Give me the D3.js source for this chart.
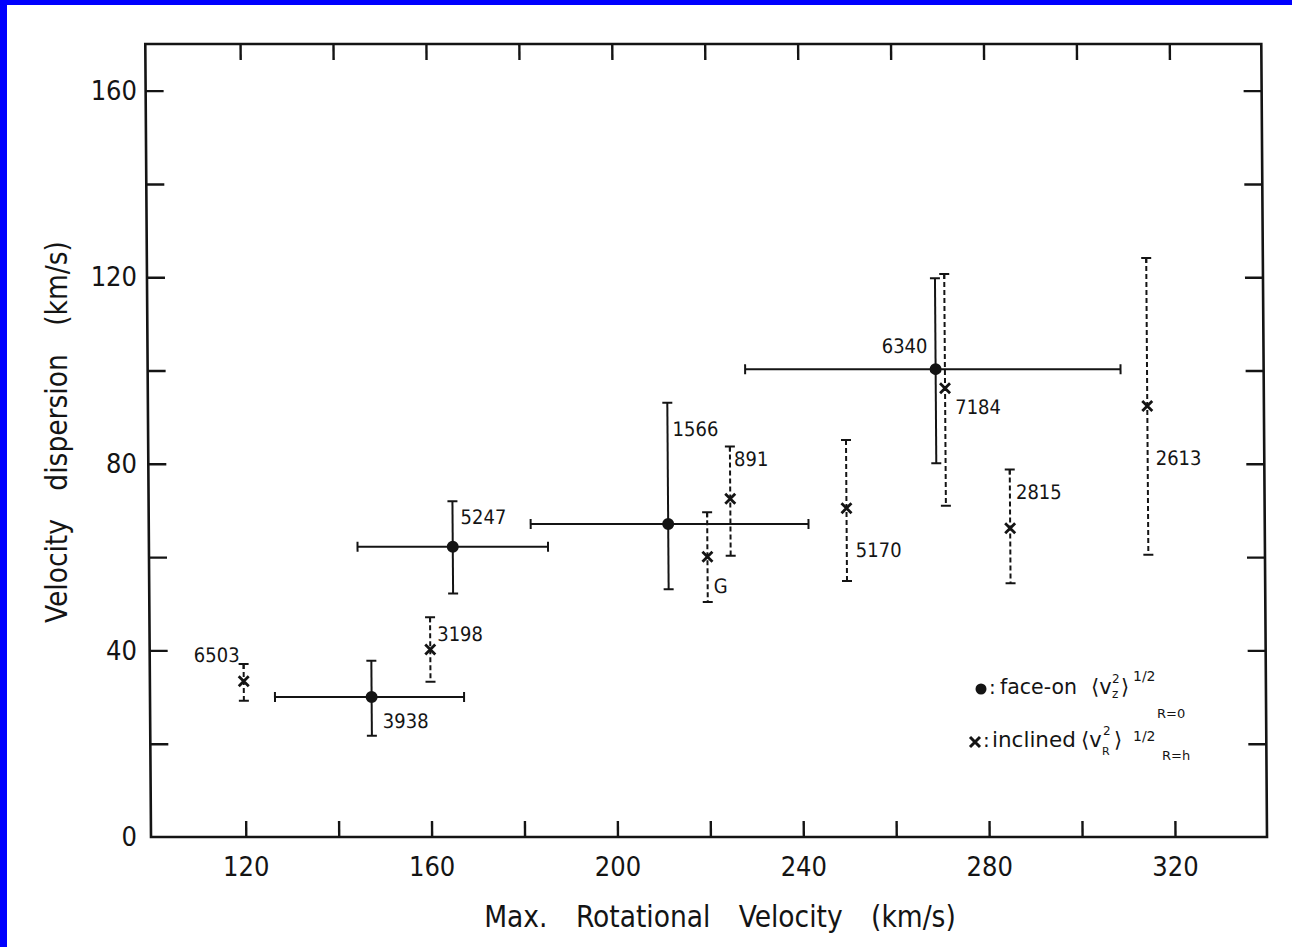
<!DOCTYPE html>
<html>
<head>
<meta charset="utf-8">
<script src="https://cdn.jsdelivr.net/npm/d3@7"></script>
<style>
  html, body { margin: 0; padding: 0; background: #fff; }
  svg { display: block; }
</style>
</head>
<body>
<svg id="chart" width="1292" height="947"></svg>
<script>
// Face-on galaxies: vertical dispersion at R=0 vs maximum rotational velocity (km/s)
const faceOnNames   = ["3938", "5247", "1566", "6340"];
const faceOnVrot    = [147.3, 165.0, 211.4, 269.2];
const faceOnVrotLo  = [126.5, 144.5, 181.8, 228.2];
const faceOnVrotHi  = [167.2, 185.5, 241.6, 309.0];
const faceOnSigma   = [30.0, 62.2, 67.1, 100.3];
const faceOnSigmaLo = [21.7, 52.2, 53.1, 80.1];
const faceOnSigmaHi = [37.8, 72.0, 93.1, 119.8];

// Inclined galaxies: radial dispersion at R=h
const inclinedNames   = ["6503", "3198", "G", "891", "5170", "7184", "2815", "2613"];
const inclinedVrot    = [119.8, 160.0, 219.8, 224.8, 249.8, 271.2, 285.0, 314.7];
const inclinedSigma   = [33.4, 40.2, 60.1, 72.5, 70.5, 96.2, 66.2, 92.4];
const inclinedSigmaLo = [29.2, 33.3, 50.4, 60.3, 54.9, 71.0, 54.4, 60.5];
const inclinedSigmaHi = [37.1, 47.1, 69.6, 83.7, 85.1, 120.7, 78.8, 124.1];

// Axis ticks
const xTicks = [120, 140, 160, 180, 200, 220, 240, 260, 280, 300, 320];
const xTickLabels = [120, 160, 200, 240, 280, 320];
const yTicks = [20, 40, 60, 80, 100, 120, 140, 160];
const yTickLabels = [0, 40, 80, 120, 160];

// Label placement for each galaxy name (relative to its point)
const labelPlacement = {
  "6503": { anchor: "end",   dx: -4, dy: -19 },
  "3198": { anchor: "start", dx: 7,  dy: -8 },
  "3938": { anchor: "start", dx: 11, dy: 31 },
  "5247": { anchor: "start", dx: 8,  dy: -23 },
  "1566": { anchor: "start", dx: 5,  dy: -88 },
  "891":  { anchor: "start", dx: 4,  dy: -33 },
  "G":    { anchor: "start", dx: 6,  dy: 36 },
  "6340": { anchor: "end",   dx: -8, dy: -16 },
  "7184": { anchor: "start", dx: 10, dy: 26 },
  "5170": { anchor: "start", dx: 9,  dy: 49 },
  "2815": { anchor: "start", dx: 6,  dy: -29 },
  "2613": { anchor: "start", dx: 8,  dy: 59 }
};

const W = 1292, H = 947;
const INK = "#141414";
const FONT = "'DejaVu Sans Condensed', 'DejaVu Sans', sans-serif";

const svg = d3.select("#chart");
svg.append("rect").attr("width", W).attr("height", H).attr("fill", "#fff");

// blue page edge
svg.append("rect").attr("x", 0).attr("y", 0).attr("width", W).attr("height", 5).attr("fill", "#0000fe");
svg.append("rect").attr("x", 0).attr("y", 0).attr("width", 7).attr("height", H).attr("fill", "#0000fe");

const x = d3.scaleLinear().domain([99.6, 339.8]).range([151, 1267]);
const y = d3.scaleLinear().domain([0, 170]).range([837, 44]);

// plot body with slight horizontal shear, pivoting on the bottom edge
const shear = 0.0072;
const plot = svg.append("g")
  .attr("transform", `translate(${-shear * 837},0) skewX(${Math.atan(shear) * 180 / Math.PI})`);

// frame
plot.append("rect")
  .attr("x", x.range()[0]).attr("y", y.range()[1])
  .attr("width", x.range()[1] - x.range()[0]).attr("height", y.range()[0] - y.range()[1])
  .attr("fill", "none").attr("stroke", INK).attr("stroke-width", 2.6);

// inward ticks on all four sides
function tickStyle(g) {
  g.select(".domain").remove();
  g.selectAll(".tick line").attr("stroke", INK).attr("stroke-width", 2.4);
  g.selectAll(".tick text").remove();
}
plot.append("g").attr("transform", `translate(0,${y.range()[0]})`)
  .call(d3.axisBottom(x).tickValues(xTicks).tickSize(-16).tickFormat(""))
  .call(tickStyle);
plot.append("g").attr("transform", `translate(0,${y.range()[1]})`)
  .call(d3.axisTop(x).tickValues(xTicks).tickSize(-16).tickFormat(""))
  .call(tickStyle);
plot.append("g").attr("transform", `translate(${x.range()[0]},0)`)
  .call(d3.axisLeft(y).tickValues(yTicks).tickSize(-18).tickFormat(""))
  .call(tickStyle);
plot.append("g").attr("transform", `translate(${x.range()[1]},0)`)
  .call(d3.axisRight(y).tickValues(yTicks).tickSize(-18).tickFormat(""))
  .call(tickStyle);

// tick labels
function labelStyle(g) {
  g.select(".domain").remove();
  g.selectAll(".tick line").remove();
  g.attr("font-family", FONT).attr("font-size", 27);
  g.selectAll(".tick text").attr("fill", INK);
}
svg.append("g").attr("transform", `translate(0,${y.range()[0]})`)
  .call(d3.axisBottom(x).tickValues(xTickLabels).tickSize(0).tickPadding(20).tickFormat(d3.format("d")))
  .call(labelStyle);
svg.append("g").attr("transform", `translate(${x.range()[0]},0)`)
  .call(d3.axisLeft(y).tickValues(yTickLabels).tickSize(0).tickPadding(14).tickFormat(d3.format("d")))
  .call(labelStyle);

// axis titles
svg.append("text")
  .attr("x", 720).attr("y", 927)
  .attr("text-anchor", "middle")
  .attr("font-family", FONT).attr("font-size", 29.5).attr("fill", INK)
  .attr("word-spacing", 20)
  .text("Max. Rotational Velocity (km/s)");
svg.append("text")
  .attr("transform", "translate(67,432) rotate(-90)")
  .attr("text-anchor", "middle")
  .attr("font-family", FONT).attr("font-size", 29.5).attr("fill", INK)
  .attr("word-spacing", 20)
  .text("Velocity dispersion (km/s)");

// data tables
const faceOn = faceOnNames.map((name, i) => ({
  name, v: faceOnVrot[i], vLo: faceOnVrotLo[i], vHi: faceOnVrotHi[i],
  s: faceOnSigma[i], sLo: faceOnSigmaLo[i], sHi: faceOnSigmaHi[i]
}));
const inclined = inclinedNames.map((name, i) => ({
  name, v: inclinedVrot[i], s: inclinedSigma[i],
  sLo: inclinedSigmaLo[i], sHi: inclinedSigmaHi[i]
}));

const cap = 5;
const marks = plot.append("g").attr("stroke", INK).attr("stroke-width", 2).attr("fill", "none");

// inclined: dashed vertical error bars with caps
const inc = marks.selectAll("g.inc").data(inclined).join("g").attr("class", "inc");
inc.append("line")
  .attr("x1", d => x(d.v)).attr("x2", d => x(d.v))
  .attr("y1", d => y(d.sHi)).attr("y2", d => y(d.sLo))
  .attr("stroke-dasharray", "5,3");
inc.append("line")
  .attr("x1", d => x(d.v) - cap).attr("x2", d => x(d.v) + cap)
  .attr("y1", d => y(d.sHi)).attr("y2", d => y(d.sHi));
inc.append("line")
  .attr("x1", d => x(d.v)).attr("x2", d => x(d.v))
  .attr("y1", d => y(d.sHi)).attr("y2", d => y(d.sHi) + 5);
inc.append("line")
  .attr("x1", d => x(d.v) - cap).attr("x2", d => x(d.v) + cap)
  .attr("y1", d => y(d.sLo)).attr("y2", d => y(d.sLo));
const xs = 5;
inc.append("path")
  .attr("d", d => {
    const cx = x(d.v), cy = y(d.s);
    return `M${cx - xs},${cy - xs}L${cx + xs},${cy + xs}M${cx - xs},${cy + xs}L${cx + xs},${cy - xs}`;
  })
  .attr("stroke-width", 2.8);

// face-on: solid error bars in both directions
const fo = marks.selectAll("g.fo").data(faceOn).join("g").attr("class", "fo");
fo.append("line")
  .attr("x1", d => x(d.vLo)).attr("x2", d => x(d.vHi))
  .attr("y1", d => y(d.s)).attr("y2", d => y(d.s));
fo.append("line")
  .attr("x1", d => x(d.vLo)).attr("x2", d => x(d.vLo))
  .attr("y1", d => y(d.s) - cap).attr("y2", d => y(d.s) + cap);
fo.append("line")
  .attr("x1", d => x(d.vHi)).attr("x2", d => x(d.vHi))
  .attr("y1", d => y(d.s) - cap).attr("y2", d => y(d.s) + cap);
fo.append("line")
  .attr("x1", d => x(d.v)).attr("x2", d => x(d.v))
  .attr("y1", d => y(d.sHi)).attr("y2", d => y(d.sLo));
fo.append("line")
  .attr("x1", d => x(d.v) - cap).attr("x2", d => x(d.v) + cap)
  .attr("y1", d => y(d.sHi)).attr("y2", d => y(d.sHi));
fo.append("line")
  .attr("x1", d => x(d.v) - cap).attr("x2", d => x(d.v) + cap)
  .attr("y1", d => y(d.sLo)).attr("y2", d => y(d.sLo));
fo.append("circle")
  .attr("cx", d => x(d.v)).attr("cy", d => y(d.s)).attr("r", 6)
  .attr("fill", INK).attr("stroke", "none");

// galaxy names
plot.append("g")
  .attr("font-family", FONT).attr("font-size", 20).attr("fill", INK)
  .selectAll("text").data([...faceOn, ...inclined]).join("text")
  .attr("x", d => x(d.v) + labelPlacement[d.name].dx)
  .attr("y", d => y(d.s) + labelPlacement[d.name].dy)
  .attr("text-anchor", d => labelPlacement[d.name].anchor)
  .text(d => d.name);

// legend
const leg = svg.append("g").attr("font-family", "'DejaVu Sans', sans-serif").attr("fill", INK);
leg.append("circle").attr("cx", 981).attr("cy", 689).attr("r", 5.5).attr("fill", INK);
leg.append("text").attr("x", 989).attr("y", 694).attr("font-size", 20).text(":");
leg.append("text").attr("x", 1000).attr("y", 694).attr("font-size", 20.5).text("face-on");
leg.append("text").attr("x", 1091).attr("y", 694).attr("font-size", 21).text("⟨v");
leg.append("text").attr("x", 1112).attr("y", 683).attr("font-size", 12).text("2");
leg.append("text").attr("x", 1112).attr("y", 698).attr("font-size", 12).text("z");
leg.append("text").attr("x", 1121).attr("y", 694).attr("font-size", 21).text("⟩");
leg.append("text").attr("x", 1133).attr("y", 681).attr("font-size", 14).text("1/2");
leg.append("text").attr("x", 1157).attr("y", 718).attr("font-size", 13).text("R=0");

leg.append("path")
  .attr("d", "M970,737L980,747M970,747L980,737")
  .attr("stroke", INK).attr("stroke-width", 3);
leg.append("text").attr("x", 983).attr("y", 747).attr("font-size", 20).text(":");
leg.append("text").attr("x", 992).attr("y", 747).attr("font-size", 21.5).text("inclined");
leg.append("text").attr("x", 1081).attr("y", 747).attr("font-size", 21).text("⟨v");
leg.append("text").attr("x", 1103).attr("y", 735).attr("font-size", 12).text("2");
leg.append("text").attr("x", 1102).attr("y", 755).attr("font-size", 11).text("R");
leg.append("text").attr("x", 1114).attr("y", 747).attr("font-size", 21).text("⟩");
leg.append("text").attr("x", 1133).attr("y", 741).attr("font-size", 14).text("1/2");
leg.append("text").attr("x", 1162).attr("y", 760).attr("font-size", 13).text("R=h");
</script>
</body>
</html>
